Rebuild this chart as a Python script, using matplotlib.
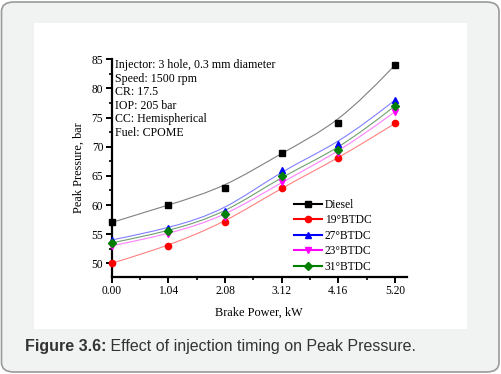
import numpy as np
import matplotlib
matplotlib.use("Agg")
from matplotlib import pyplot as plt
from matplotlib.path import Path
from matplotlib.patches import PathPatch, FancyBboxPatch, Rectangle
from matplotlib.lines import Line2D
from matplotlib.ticker import MultipleLocator, FormatStrFormatter

plt.rcParams["font.family"] = "Liberation Serif"

brake_power = [0.00, 1.04, 2.08, 3.12, 4.16, 5.20]
series_names = ["Diesel", "19°BTDC", "27°BTDC", "23°BTDC", "31°BTDC"]
diesel = [57, 60, 63, 69, 74, 84]
btdc_19 = [50, 53, 57, 63, 68, 74]
btdc_27 = [54, 56, 59, 66, 70.5, 78]
btdc_23 = [53, 55, 58, 64, 69, 76]
btdc_31 = [53.5, 55.5, 58.5, 65, 69.5, 77]
notes = ["Injector: 3 hole, 0.3 mm diameter", "Speed: 1500 rpm", "CR: 17.5",
         "IOP: 205 bar", "CC: Hemispherical", "Fuel: CPOME"]

colors = ["black", "#ff0000", "#0000ff", "#ff00ff", "#008000"]
line_colors = ["#808080", "#ff8080", "#8080ff", "#ff80ff", "#70a070"]
markers = ["s", "o", "^", "v", "D"]
msizes = [4.5, 4.5, 5, 5, 4]


def bspline_path(x, y):
    # clamped uniform cubic B-spline (Origin style "B-Spline" connect),
    # with the data points as control points, as bezier segments
    pts = np.column_stack([np.asarray(x, float), np.asarray(y, float)])
    pts = np.vstack([pts[:1], pts[:1], pts, pts[-1:], pts[-1:]])
    verts = [pts[0]]
    codes = [Path.MOVETO]
    for i in range(1, len(pts) - 2):
        p0, p1, p2, p3 = pts[i - 1], pts[i], pts[i + 1], pts[i + 2]
        verts += [(2 * p1 + p2) / 3, (p1 + 2 * p2) / 3,
                  (p1 + 4 * p2 + p3) / 6]
        codes += [Path.CURVE4] * 3
    return Path(verts, codes)


W, H = 501, 374
fig = plt.figure(figsize=(W / 100, H / 100), dpi=100, facecolor="white")

# page decoration: grey rounded box with a white panel
box = FancyBboxPatch((1.5 / W, 2 / H), (W - 3.5) / W, (H - 4) / H,
                     boxstyle="round,pad=0,rounding_size=0.025",
                     transform=fig.transFigure, facecolor="#f1f2f2",
                     edgecolor="#9a9a9a", linewidth=1.2, zorder=-2)
fig.patches.append(box)
panel = Rectangle((34 / W, (H - 329) / H), (467 - 34) / W, (329 - 23) / H,
                  transform=fig.transFigure, facecolor="white",
                  edgecolor="none", zorder=-1)
fig.patches.append(panel)

ax = fig.add_axes([111.7 / W, (H - 276.7) / H, 295 / W, 217.4 / H])
ax.patch.set_alpha(0)

all_series = [diesel, btdc_19, btdc_27, btdc_23, btdc_31]
handles = []
for name, vals, c, lc, m, ms in zip(series_names, all_series, colors,
                                    line_colors, markers, msizes):
    ax.add_patch(PathPatch(bspline_path(brake_power, vals), facecolor="none",
                           edgecolor=lc, linewidth=0.8, zorder=2))
    ax.plot(brake_power, vals, linestyle="none", marker=m, markersize=ms,
            color=c, clip_on=False, zorder=3)
    handles.append(Line2D([], [], color=c, marker=m, markersize=ms,
                          linewidth=1.5, label=name))

ax.set_xlim(0, 5.415)
ax.set_ylim(47.7, 85)
ax.xaxis.set_major_locator(MultipleLocator(1.04))
ax.xaxis.set_minor_locator(MultipleLocator(0.52))
ax.xaxis.set_major_formatter(FormatStrFormatter("%.2f"))
ax.yaxis.set_major_locator(MultipleLocator(5))
ax.yaxis.set_minor_locator(MultipleLocator(2.5))

for s in ["top", "right"]:
    ax.spines[s].set_visible(False)
for s in ["left", "bottom"]:
    ax.spines[s].set_linewidth(1.6)
ax.tick_params(which="major", direction="out", length=4, width=1.4,
               labelsize=8.3, pad=2)
ax.tick_params(which="minor", direction="out", length=2.5, width=1.2)

ax.set_xlabel("Brake Power, kW", fontsize=8.8, labelpad=7)
ax.set_ylabel("Peak Pressure, bar", fontsize=8.8, labelpad=5)

ax.text(115 / W, (H - 59) / H, "\n".join(notes), transform=fig.transFigure,
        fontsize=8.6, va="top", ha="left", linespacing=1.17)

ax.legend(handles=handles, loc="upper left", frameon=False, fontsize=8.3,
          bbox_to_anchor=(294 / W, (H - 199) / H),
          bbox_transform=fig.transFigure, handlelength=2.4,
          handletextpad=0.25, labelspacing=0.3, borderpad=0,
          borderaxespad=0)

# caption: bold label followed by regular text
cap = fig.text(25 / W, (H - 347) / H, "Figure 3.6:", fontsize=11.5,
               fontweight="bold", family="Liberation Sans", color="#333333",
               va="center", ha="left")
fig.add_artist(plt.Annotation(" Effect of injection timing on Peak Pressure.",
                              xy=(1, 0.5), xycoords=cap, va="center",
                              ha="left", fontsize=11.5,
                              family="Liberation Sans", color="#333333"))

fig.savefig("out.png", dpi=100, facecolor="white")
